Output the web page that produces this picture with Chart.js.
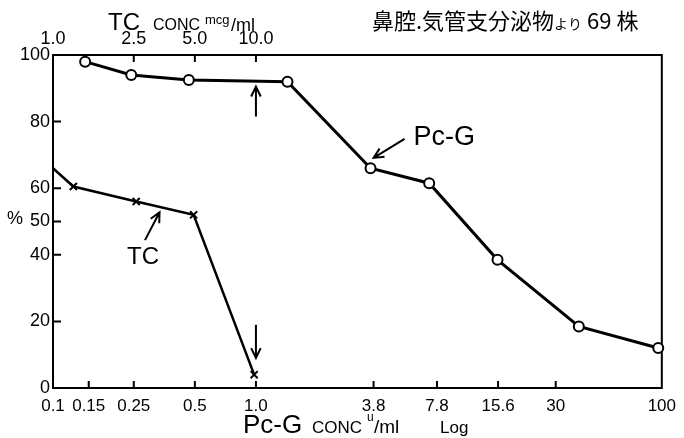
<!DOCTYPE html>
<html>
<head>
<meta charset="utf-8">
<script src="https://cdn.jsdelivr.net/npm/chart.js@4"></script>
<style>
  html, body { margin: 0; padding: 0; background: #fff; }
  #wrap { width: 684px; height: 438px; }
</style>
</head>
<body>
<div id="wrap"><canvas id="line-chart" width="684" height="438"></canvas></div>
<script>
// Pc-G (circles): concentration u/ml and % sensitive
var pcgConc = [0.144, 0.243, 0.467, 1.43, 3.67, 7.14, 15.5, 39, 96];
var pcgPct = [98, 94, 92.5, 92, 66, 61.5, 38.5, 18.5, 12];

// TC (crosses): plotted on the Pc-G scale (TC conc = 10x)
var tcConc = [0.1, 0.126, 0.257, 0.493, 0.98];
var tcPct = [66, 60.5, 56, 52, 4];

var bottomTicks = [0.1, 0.15, 0.25, 0.5, 1, 3.8, 7.8, 15.6, 30, 100];
var bottomLabels = ['0.1', '0.15', '0.25', '0.5', '1.0', '3.8', '7.8', '15.6', '30', '100'];
var topTicks = [1, 2.5, 5, 10];
var topLabels = ['1.0', '2.5', '5.0', '10.0'];
var yTicks = [0, 20, 40, 50, 60, 80, 100];
var yLabels = ['0', '20', '40', '50', '60', '80', '100'];

var FONT = "'Liberation Sans', Arial, sans-serif";
var CJK = "'Noto Sans CJK JP', sans-serif";
Chart.defaults.font.family = FONT;
Chart.defaults.color = '#000';

function toPoints(xs, ys) {
  return xs.map(function (x, i) { return { x: x, y: ys[i] }; });
}

function arrow(ctx, x1, y1, x2, y2) {
  var a = Math.atan2(y2 - y1, x2 - x1), h = 11, w = 0.45;
  ctx.beginPath();
  ctx.moveTo(x1, y1);
  ctx.lineTo(x2, y2);
  ctx.moveTo(x2 - h * Math.cos(a - w), y2 - h * Math.sin(a - w));
  ctx.lineTo(x2, y2);
  ctx.lineTo(x2 - h * Math.cos(a + w), y2 - h * Math.sin(a + w));
  ctx.stroke();
}

var frame = {
  id: 'frame',
  beforeDatasetsDraw: function (chart) {
    var ctx = chart.ctx, a = chart.chartArea;
    var sx = chart.scales.x, sx2 = chart.scales.x2, sy = chart.scales.y;
    ctx.save();
    ctx.strokeStyle = '#000';
    ctx.lineWidth = 2;
    ctx.strokeRect(a.left, a.top, a.right - a.left, a.bottom - a.top);
    ctx.beginPath();
    bottomTicks.slice(1, -1).forEach(function (v) {
      var x = sx.getPixelForValue(v);
      ctx.moveTo(x, a.bottom); ctx.lineTo(x, a.bottom - 7);
    });
    topTicks.slice(1).forEach(function (v) {
      var x = sx2.getPixelForValue(v);
      ctx.moveTo(x, a.top); ctx.lineTo(x, a.top + 7);
    });
    yTicks.slice(1, -1).forEach(function (v) {
      var y = sy.getPixelForValue(v);
      ctx.moveTo(a.left, y); ctx.lineTo(a.left + 8, y);
    });
    ctx.stroke();
    ctx.restore();
  },
  afterDraw: function (chart) {
    var ctx = chart.ctx;
    var sx = chart.scales.x, sy = chart.scales.y;
    function px(v) { return sx.getPixelForValue(v); }
    function py(v) { return sy.getPixelForValue(v); }
    ctx.save();
    ctx.fillStyle = '#000';
    ctx.strokeStyle = '#000';
    ctx.lineWidth = 2;
    ctx.textBaseline = 'alphabetic';

    // top axis title
    ctx.font = '24px ' + FONT;
    ctx.fillText('TC', 108, 30);
    ctx.font = '16px ' + FONT;
    ctx.fillText('CONC', 153, 30);
    ctx.font = '13px ' + FONT;
    ctx.fillText('mcg', 205, 24);
    ctx.font = '18px ' + FONT;
    ctx.fillText('/ml', 231, 31);

    // right title
    var x = 372;
    ctx.font = '22px ' + CJK;
    ctx.fillText('鼻腔.気管支分泌物', x, 29);
    x += ctx.measureText('鼻腔.気管支分泌物').width;
    ctx.font = '14px ' + CJK;
    ctx.fillText('より', x, 29);
    x += ctx.measureText('より').width;
    ctx.font = '22px ' + CJK;
    ctx.fillText(' 69 株', x, 29);

    // bottom axis title
    ctx.font = '26px ' + FONT;
    ctx.fillText('Pc-G', 243, 433);
    ctx.font = '17px ' + FONT;
    ctx.fillText('CONC', 312, 433);
    ctx.font = '12px ' + FONT;
    ctx.fillText('u', 367, 421);
    ctx.font = '19px ' + FONT;
    ctx.fillText('/ml', 374, 433);
    ctx.font = '17px ' + FONT;
    ctx.fillText('Log', 440, 433);

    // y axis unit
    ctx.font = '18px ' + FONT;
    ctx.fillText('%', 7, 224);

    // series labels and arrows
    ctx.font = '24px ' + FONT;
    ctx.textAlign = 'center';
    ctx.textBaseline = 'middle';
    ctx.fillText('TC', px(0.278), py(39.3));
    ctx.textAlign = 'left';
    ctx.font = '27px ' + FONT;
    ctx.fillText('Pc-G', px(5.98), py(75.2));

    arrow(ctx, px(0.284), py(44.4), px(0.335), py(52.8));
    arrow(ctx, px(5.4), py(74.8), px(3.8), py(69.1));
    arrow(ctx, px(1.0), py(81.5), px(1.0), py(90.5));
    arrow(ctx, px(1.0), py(19), px(1.0), py(9));
    ctx.restore();
  }
};

var ctx = document.getElementById('line-chart').getContext('2d');
new Chart(ctx, {
  type: 'line',
  data: {
    datasets: [{
      label: 'Pc-G',
      data: toPoints(pcgConc, pcgPct),
      borderColor: '#000',
      borderWidth: 3,
      pointRadius: 5,
      pointBackgroundColor: '#fff',
      pointBorderColor: '#000',
      pointBorderWidth: 2,
      tension: 0,
      clip: false
    }, {
      label: 'TC',
      data: toPoints(tcConc, tcPct),
      borderColor: '#000',
      borderWidth: 2.5,
      pointStyle: 'crossRot',
      pointRadius: [0, 5, 5, 5, 5],
      pointBorderColor: '#000',
      pointBorderWidth: 2,
      tension: 0,
      clip: false
    }]
  },
  options: {
    responsive: false,
    animation: false,
    layout: { padding: { right: 8 } },
    plugins: { legend: { display: false }, tooltip: { enabled: false } },
    scales: {
      x: {
        type: 'logarithmic',
        position: 'bottom',
        min: 0.1,
        max: 100,
        afterBuildTicks: function (s) { s.ticks = bottomTicks.map(function (v) { return { value: v }; }); },
        afterFit: function (s) { s.height = 50; },
        grid: { display: false, drawTicks: false },
        border: { display: false },
        ticks: {
          autoSkip: false, maxRotation: 0, padding: 8,
          font: { size: 17 },
          callback: function (v, i) { return bottomLabels[i]; }
        }
      },
      x2: {
        type: 'logarithmic',
        position: 'top',
        min: 1,
        max: 1000,
        afterBuildTicks: function (s) { s.ticks = topTicks.map(function (v) { return { value: v }; }); },
        afterFit: function (s) { s.height = 55; },
        grid: { display: false, drawTicks: false },
        border: { display: false },
        ticks: {
          autoSkip: false, maxRotation: 0, padding: 5,
          font: { size: 18 },
          callback: function (v, i) { return topLabels[i]; }
        }
      },
      y: {
        type: 'linear',
        min: 0,
        max: 100,
        afterBuildTicks: function (s) { s.ticks = yTicks.map(function (v) { return { value: v }; }); },
        afterFit: function (s) { s.width = 53; },
        grid: { display: false, drawTicks: false },
        border: { display: false },
        ticks: {
          autoSkip: false, padding: 3,
          font: { size: 18 },
          callback: function (v, i) { return yLabels[i]; }
        }
      }
    }
  },
  plugins: [frame]
});
</script>
</body>
</html>
